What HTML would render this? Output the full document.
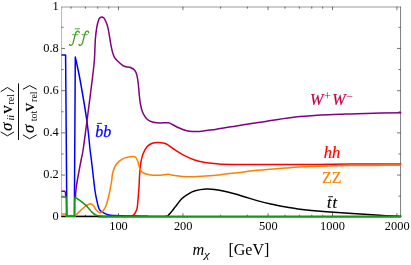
<!DOCTYPE html>
<html><head><meta charset="utf-8">
<style>
html,body{margin:0;padding:0;background:#fff;}
body{width:411px;height:265px;overflow:hidden;font-family:"Liberation Serif",serif;}
svg{display:block;will-change:transform;}
text{font-family:"Liberation Serif",serif;}
</style></head><body>
<svg width="411" height="265" viewBox="0 0 411 265">
<rect width="411" height="265" fill="#fff"/>
<!-- frame -->
<g fill="none" stroke="#000">
<line x1="61.25" y1="7.0" x2="400.8" y2="7.0" stroke-width="0.4"/>
<line x1="61.6" y1="6.7" x2="61.6" y2="217.0" stroke-width="0.3"/>
<line x1="400.55" y1="6.7" x2="400.55" y2="217.0" stroke-width="0.5"/>
</g>
<g stroke="#000" stroke-width="0.55" fill="none">
<line x1="61.50" y1="196.16" x2="63.50" y2="196.16"/><line x1="400.50" y1="196.16" x2="398.50" y2="196.16"/><line x1="61.50" y1="175.06" x2="65.00" y2="175.06"/><line x1="400.50" y1="175.06" x2="397.00" y2="175.06"/><line x1="61.50" y1="153.96" x2="63.50" y2="153.96"/><line x1="400.50" y1="153.96" x2="398.50" y2="153.96"/><line x1="61.50" y1="132.86" x2="65.00" y2="132.86"/><line x1="400.50" y1="132.86" x2="397.00" y2="132.86"/><line x1="61.50" y1="111.76" x2="63.50" y2="111.76"/><line x1="400.50" y1="111.76" x2="398.50" y2="111.76"/><line x1="61.50" y1="90.66" x2="65.00" y2="90.66"/><line x1="400.50" y1="90.66" x2="397.00" y2="90.66"/><line x1="61.50" y1="69.56" x2="63.50" y2="69.56"/><line x1="400.50" y1="69.56" x2="398.50" y2="69.56"/><line x1="61.50" y1="48.46" x2="65.00" y2="48.46"/><line x1="400.50" y1="48.46" x2="397.00" y2="48.46"/><line x1="61.50" y1="27.36" x2="63.50" y2="27.36"/><line x1="400.50" y1="27.36" x2="398.50" y2="27.36"/><line x1="71.02" y1="6.70" x2="71.02" y2="8.70"/><line x1="85.35" y1="6.70" x2="85.35" y2="8.70"/><line x1="97.76" y1="6.70" x2="97.76" y2="8.70"/><line x1="108.71" y1="6.70" x2="108.71" y2="8.70"/><line x1="118.50" y1="6.70" x2="118.50" y2="10.20"/><line x1="182.92" y1="6.70" x2="182.92" y2="10.20"/><line x1="220.60" y1="6.70" x2="220.60" y2="8.70"/><line x1="247.34" y1="6.70" x2="247.34" y2="8.70"/><line x1="268.08" y1="6.70" x2="268.08" y2="10.20"/><line x1="285.02" y1="6.70" x2="285.02" y2="8.70"/><line x1="299.35" y1="6.70" x2="299.35" y2="8.70"/><line x1="311.76" y1="6.70" x2="311.76" y2="8.70"/><line x1="322.71" y1="6.70" x2="322.71" y2="8.70"/><line x1="332.50" y1="6.70" x2="332.50" y2="10.20"/><line x1="396.92" y1="6.70" x2="396.92" y2="10.20"/>
</g>
<line x1="61.25" y1="216.9" x2="400.8" y2="216.9" stroke="#000" stroke-width="0.6"/>
<g stroke="#000" stroke-width="0.6" fill="none"><line x1="71.02" y1="216.70" x2="71.02" y2="214.70"/><line x1="85.35" y1="216.70" x2="85.35" y2="214.70"/><line x1="97.76" y1="216.70" x2="97.76" y2="214.70"/><line x1="108.71" y1="216.70" x2="108.71" y2="214.70"/><line x1="118.50" y1="216.70" x2="118.50" y2="213.20"/><line x1="182.92" y1="216.70" x2="182.92" y2="213.20"/><line x1="220.60" y1="216.70" x2="220.60" y2="214.70"/><line x1="247.34" y1="216.70" x2="247.34" y2="214.70"/><line x1="268.08" y1="216.70" x2="268.08" y2="213.20"/><line x1="285.02" y1="216.70" x2="285.02" y2="214.70"/><line x1="299.35" y1="216.70" x2="299.35" y2="214.70"/><line x1="311.76" y1="216.70" x2="311.76" y2="214.70"/><line x1="322.71" y1="216.70" x2="322.71" y2="214.70"/><line x1="332.50" y1="216.70" x2="332.50" y2="213.20"/><line x1="396.92" y1="216.70" x2="396.92" y2="213.20"/></g>
<!-- curves -->
<clipPath id="cp"><rect x="61.5" y="6.7" width="339.8" height="213.0"/></clipPath>
<g fill="none" stroke-width="1.5" stroke-linejoin="round" stroke-linecap="butt" clip-path="url(#cp)">
<path d="M60,55 L65.6,55 L66.85,216.35 L74.35,216.35 L75.3,57 L75.40,57.30 C76.18,61.08 78.18,69.38 80.10,80.00 C82.02,90.62 85.23,109.33 86.90,121.00 C88.57,132.67 89.35,143.50 90.10,150.00 C90.85,156.50 90.80,155.00 91.40,160.00 C92.00,165.00 93.12,175.00 93.70,180.00 C94.28,185.00 94.47,187.00 94.90,190.00 C95.33,193.00 95.62,194.88 96.30,198.00 C96.98,201.12 97.92,206.30 99.00,208.70 C100.08,211.10 101.17,211.35 102.80,212.40 C104.43,213.45 106.80,214.47 108.80,215.00 C110.80,215.53 112.10,215.45 114.80,215.60 C117.50,215.75 121.63,215.82 125.00,215.90 C128.37,215.98 131.17,216.03 135.00,216.10 C138.83,216.17 145.83,216.31 148.00,216.35" stroke="#0000ff"/>
<path d="M60,191.3 L64.6,191.3 Q65.5,191.4 65.6,195 L65.65,197.5" stroke="#800080"/>
<path d="M75.5,198 L75.5,197 L75.60,194.00 C75.72,192.83 76.00,189.33 76.30,187.00 C76.60,184.67 76.60,184.50 77.40,180.00 C78.20,175.50 80.15,165.00 81.10,160.00 C82.05,155.00 82.13,156.42 83.10,150.00 C84.07,143.58 85.38,133.17 86.90,121.50 C88.42,109.83 90.95,90.25 92.20,80.00 C93.45,69.75 93.88,66.67 94.40,60.00 C94.92,53.33 94.90,45.48 95.30,40.00 C95.70,34.52 96.22,30.50 96.80,27.10 C97.38,23.70 98.23,21.18 98.80,19.60 C99.37,18.02 99.70,18.05 100.20,17.60 C100.70,17.15 101.25,16.90 101.80,16.90 C102.35,16.90 102.97,17.12 103.50,17.60 C104.03,18.08 104.28,18.22 105.00,19.80 C105.72,21.38 106.95,23.73 107.80,27.10 C108.65,30.47 109.52,36.72 110.10,40.00 C110.68,43.28 110.83,44.57 111.30,46.80 C111.77,49.03 112.35,51.60 112.90,53.40 C113.45,55.20 113.73,56.25 114.60,57.60 C115.47,58.95 116.77,60.22 118.10,61.50 C119.43,62.78 121.28,64.42 122.60,65.30 C123.92,66.18 124.68,66.43 126.00,66.80 C127.32,67.17 129.05,66.93 130.50,67.50 C131.95,68.07 133.65,68.97 134.70,70.20 C135.75,71.43 136.22,72.77 136.80,74.90 C137.38,77.03 137.78,79.65 138.20,83.00 C138.62,86.35 138.93,91.50 139.30,95.00 C139.67,98.50 139.85,101.12 140.40,104.00 C140.95,106.88 141.60,109.90 142.60,112.30 C143.60,114.70 144.88,116.82 146.40,118.40 C147.92,119.98 149.57,121.05 151.70,121.80 C153.83,122.55 156.43,122.73 159.20,122.90 C161.97,123.07 166.03,122.48 168.30,122.80 C170.57,123.12 170.85,123.88 172.80,124.80 C174.75,125.72 177.45,127.28 180.00,128.30 C182.55,129.32 184.87,130.38 188.10,130.90 C191.33,131.42 194.88,131.65 199.40,131.40 C203.92,131.15 208.78,130.35 215.20,129.40 C221.62,128.45 230.43,126.88 237.90,125.70 C245.37,124.52 254.22,123.20 260.00,122.30 C265.78,121.40 266.73,121.18 272.60,120.30 C278.47,119.42 287.65,117.85 295.20,117.00 C302.75,116.15 310.43,115.65 317.90,115.20 C325.37,114.75 331.95,114.60 340.00,114.30 C348.05,114.00 355.87,113.65 366.20,113.40 C376.53,113.15 396.03,112.90 402.00,112.80" stroke="#800080"/>
<path d="M60,216.3 L130,216.3" stroke="#ff0000" stroke-width="1.3"/>
<path d="M129.50,216.35 C129.78,216.34 130.68,216.43 131.20,216.30 C131.72,216.18 132.03,216.02 132.60,215.60 C133.17,215.18 133.97,214.70 134.60,213.80 C135.23,212.90 135.93,211.45 136.40,210.20 C136.87,208.95 136.98,209.90 137.40,206.30 C137.82,202.70 138.53,193.82 138.90,188.60 C139.27,183.38 139.27,179.42 139.60,175.00 C139.93,170.58 140.30,165.68 140.90,162.10 C141.50,158.52 142.18,156.07 143.20,153.50 C144.22,150.93 145.50,148.42 147.00,146.70 C148.50,144.98 150.32,143.90 152.20,143.20 C154.08,142.50 156.28,142.50 158.30,142.50 C160.32,142.50 162.70,142.80 164.30,143.20 C165.90,143.60 166.35,143.93 167.90,144.90 C169.45,145.87 171.15,147.38 173.60,149.00 C176.05,150.62 179.22,152.80 182.60,154.60 C185.98,156.40 190.13,158.48 193.90,159.80 C197.67,161.12 201.05,161.80 205.20,162.50 C209.35,163.20 213.88,163.67 218.80,164.00 C223.72,164.33 229.50,164.40 234.70,164.50 C239.90,164.60 239.12,164.60 250.00,164.60 C260.88,164.60 283.33,164.58 300.00,164.50 C316.67,164.42 333.00,164.18 350.00,164.10 C367.00,164.02 393.33,164.02 402.00,164.00" stroke="#ff0000"/>
<path d="M60,216.4 L166,216.4" stroke="#000" stroke-width="1.1"/>
<path d="M165.50,216.35 C165.73,216.33 166.45,216.38 166.90,216.25 C167.35,216.12 167.75,216.01 168.20,215.60 C168.65,215.19 168.93,214.58 169.60,213.80 C170.27,213.02 171.42,211.87 172.20,210.90 C172.98,209.93 173.63,208.87 174.30,208.00 C174.97,207.13 174.97,207.23 176.20,205.70 C177.43,204.17 179.65,200.78 181.70,198.80 C183.75,196.82 186.25,195.13 188.50,193.80 C190.75,192.47 192.28,191.58 195.20,190.80 C198.12,190.02 202.78,189.32 206.00,189.10 C209.22,188.88 211.25,189.08 214.50,189.50 C217.75,189.92 221.08,190.57 225.50,191.60 C229.92,192.63 235.73,194.20 241.00,195.70 C246.27,197.20 252.15,199.22 257.10,200.60 C262.05,201.98 266.17,202.98 270.70,204.00 C275.23,205.02 279.77,205.87 284.30,206.70 C288.83,207.53 293.38,208.37 297.90,209.00 C302.42,209.63 304.78,209.92 311.40,210.50 C318.02,211.08 329.47,211.90 337.60,212.50 C345.73,213.10 352.63,213.60 360.20,214.10 C367.77,214.60 376.03,215.12 383.00,215.50 C389.97,215.88 398.83,216.21 402.00,216.35" stroke="#000"/>
<path d="M60,214 L66,214 L66.3,216.35 L74.8,216.35 L74.80,216.35 C75.68,215.44 78.20,212.69 80.10,210.90 C82.00,209.11 84.43,206.80 86.20,205.60 C87.97,204.40 89.47,203.63 90.70,203.70 C91.93,203.77 92.63,204.90 93.60,206.00 C94.57,207.10 95.52,209.20 96.50,210.30 C97.48,211.40 98.48,212.42 99.50,212.60 C100.52,212.78 101.50,212.57 102.60,211.40 C103.70,210.23 104.93,208.83 106.10,205.60 C107.27,202.37 108.65,196.27 109.60,192.00 C110.55,187.73 111.35,182.83 111.80,180.00 C112.25,177.17 111.85,177.10 112.30,175.00 C112.75,172.90 113.38,169.67 114.50,167.40 C115.62,165.13 117.23,162.98 119.00,161.40 C120.77,159.82 122.83,158.70 125.10,157.90 C127.37,157.10 130.85,156.70 132.60,156.60 C134.35,156.50 134.72,156.50 135.60,157.30 C136.48,158.10 137.27,159.72 137.90,161.40 C138.53,163.08 138.65,165.58 139.40,167.40 C140.15,169.22 140.77,171.07 142.40,172.30 C144.03,173.53 146.55,174.30 149.20,174.80 C151.85,175.30 155.18,175.40 158.30,175.30 C161.42,175.20 165.73,174.27 167.90,174.20 C170.07,174.13 168.85,174.52 171.30,174.90 C173.75,175.28 178.83,176.20 182.60,176.50 C186.37,176.80 190.13,176.78 193.90,176.70 C197.67,176.62 201.05,176.30 205.20,176.00 C209.35,175.70 213.88,175.38 218.80,174.90 C223.72,174.42 229.50,173.73 234.70,173.10 C239.90,172.47 245.35,171.63 250.00,171.10 C254.65,170.57 259.27,170.20 262.60,169.90 C265.93,169.60 266.23,169.60 270.00,169.30 C273.77,169.00 280.20,168.47 285.20,168.10 C290.20,167.73 294.20,167.40 300.00,167.10 C305.80,166.80 311.67,166.55 320.00,166.30 C328.33,166.05 340.83,165.75 350.00,165.60 C359.17,165.45 366.33,165.45 375.00,165.40 C383.67,165.35 397.50,165.32 402.00,165.30" stroke="#ff8000"/>
<path d="M60,197 L66.15,197 L66.45,216.35 L74.75,216.35 L74.85,197.3 L74.85,197.30 C75.72,197.87 78.21,199.32 80.10,200.70 C81.99,202.08 84.18,203.65 86.20,205.60 C88.22,207.55 90.45,210.77 92.20,212.40 C93.95,214.03 95.07,214.74 96.70,215.40 C98.33,216.06 99.78,216.19 102.00,216.35 C104.22,216.51 108.67,216.35 110.00,216.35 L402,216.35" stroke="#109a10"/>
<path d="M98,217.2 L401,217.2" stroke="#109a10" stroke-width="0.9"/>
</g>
<!-- tick labels -->
<g font-size="12.4" fill="#000">
<text x="58.75" y="9.66" text-anchor="end">1</text><text x="58.75" y="51.86" text-anchor="end">0.8</text><text x="58.75" y="94.06" text-anchor="end">0.6</text><text x="58.75" y="136.26" text-anchor="end">0.4</text><text x="58.75" y="178.46" text-anchor="end">0.2</text><text x="58.75" y="220.10" text-anchor="end">0</text>
<text x="118.50" y="230.4" text-anchor="middle">100</text><text x="183.22" y="230.4" text-anchor="middle">200</text><text x="268.38" y="230.4" text-anchor="middle">500</text><text x="332.50" y="230.4" text-anchor="middle">1000</text><text x="397.22" y="230.4" text-anchor="middle">2000</text>
</g>
<!-- curve labels -->
<g font-size="16" font-style="italic">
<g fill="none" stroke="#3a9a1a" stroke-linecap="round" aria-label="ff">
<g transform="translate(69.2,30.9)"><path d="M10.0,1.7 C10.1,0.5 9.0,0.0 8.1,0.3 C6.8,0.7 6.4,2.1 6.0,3.7 L4.0,11.7 C3.6,13.3 3.0,14.3 1.8,14.4 C1.0,14.5 0.3,14.1 0.3,13.4" stroke-width="1.25"/><path d="M3.3,3.8 L8.8,3.8" stroke-width="0.8"/></g>
<g transform="translate(78.6,30.9)"><path d="M10.0,1.7 C10.1,0.5 9.0,0.0 8.1,0.3 C6.8,0.7 6.4,2.1 6.0,3.7 L4.0,11.7 C3.6,13.3 3.0,14.3 1.8,14.4 C1.0,14.5 0.3,14.1 0.3,13.4" stroke-width="1.25"/><path d="M3.3,3.8 L8.8,3.8" stroke-width="0.8"/></g>
</g>
<rect x="74.7" y="28.4" width="5.2" height="0.9" fill="#3a9a1a"/>
<text x="95.3" y="136.6" fill="#0000ff" stroke="#0000ff" stroke-width="0.25">bb</text>
<rect x="97" y="122.9" width="5" height="0.9" fill="#0000ff"/>
<text x="309.9" y="105.1" fill="#c8004b" stroke="#c8004b" stroke-width="0.2">W</text>
<text x="324.3" y="100.4" fill="#c8004b" font-size="12" font-style="normal">+</text>
<text x="332.3" y="105.1" fill="#c8004b" stroke="#c8004b" stroke-width="0.2">W</text>
<text x="346.2" y="100" fill="#c8004b" font-size="12" font-style="normal">−</text>
<text x="323.7" y="157.5" fill="#ff0000" font-size="16.5" stroke="#ff0000" stroke-width="0.2">hh</text>
<text x="322.1" y="182.9" fill="#ff8000" font-style="normal" stroke="#ff8000" stroke-width="0.15">ZZ</text>
<text x="326.9" y="207.9" fill="#000" font-size="16.4" stroke="#000" stroke-width="0.2">t</text><text x="332.5" y="207.9" fill="#000" font-size="16.4" stroke="#000" stroke-width="0.2">t</text>
<rect x="328.3" y="196.3" width="4.7" height="0.9" fill="#000"/>
</g>
<!-- x axis label -->
<text x="192.4" y="255" font-size="16.3" font-style="italic">m</text>
<text transform="translate(204.1,257.5) scale(1.2,1)" font-size="10.8" font-style="italic">χ</text>
<text x="228.4" y="255.3" font-size="16">[GeV]</text>
<!-- y axis label -->
<rect x="18.05" y="83.4" width="0.95" height="56.5" fill="#000"/>
<g fill="none" stroke="#000" stroke-width="0.95" stroke-linejoin="miter">
<polyline points="0.7,91.7 7.4,87.5 14.1,91.7"/>
<polyline points="0.7,131.9 7.4,135.8 14.1,131.9"/>
<polyline points="22.9,89.3 29.6,85.6 36.7,89.3"/>
<polyline points="22.9,134.8 29.6,138.8 36.7,134.8"/>
</g>
<g stroke="#000" stroke-width="0">
<g transform="translate(12.2,131) rotate(-90)">
<text x="0" y="0" font-size="17" font-style="italic" stroke-width="0.1">σ</text>
<text x="10.4" y="1.7" font-size="10" font-style="italic">ii</text>
<text x="17.2" y="-0.5" font-size="17.5" stroke-width="0.15">v</text>
<text x="26.4" y="2.2" font-size="10">rel</text>
</g>
<g transform="translate(34.1,132.9) rotate(-90)">
<text x="0" y="0" font-size="17" font-style="italic" stroke-width="0.1">σ</text>
<text x="11.6" y="2.9" font-size="10">tot</text>
<text x="21.3" y="-0.2" font-size="17.5" stroke-width="0.15">v</text>
<text x="31" y="2.9" font-size="10">rel</text>
</g>
</g>
</svg>
</body></html>
